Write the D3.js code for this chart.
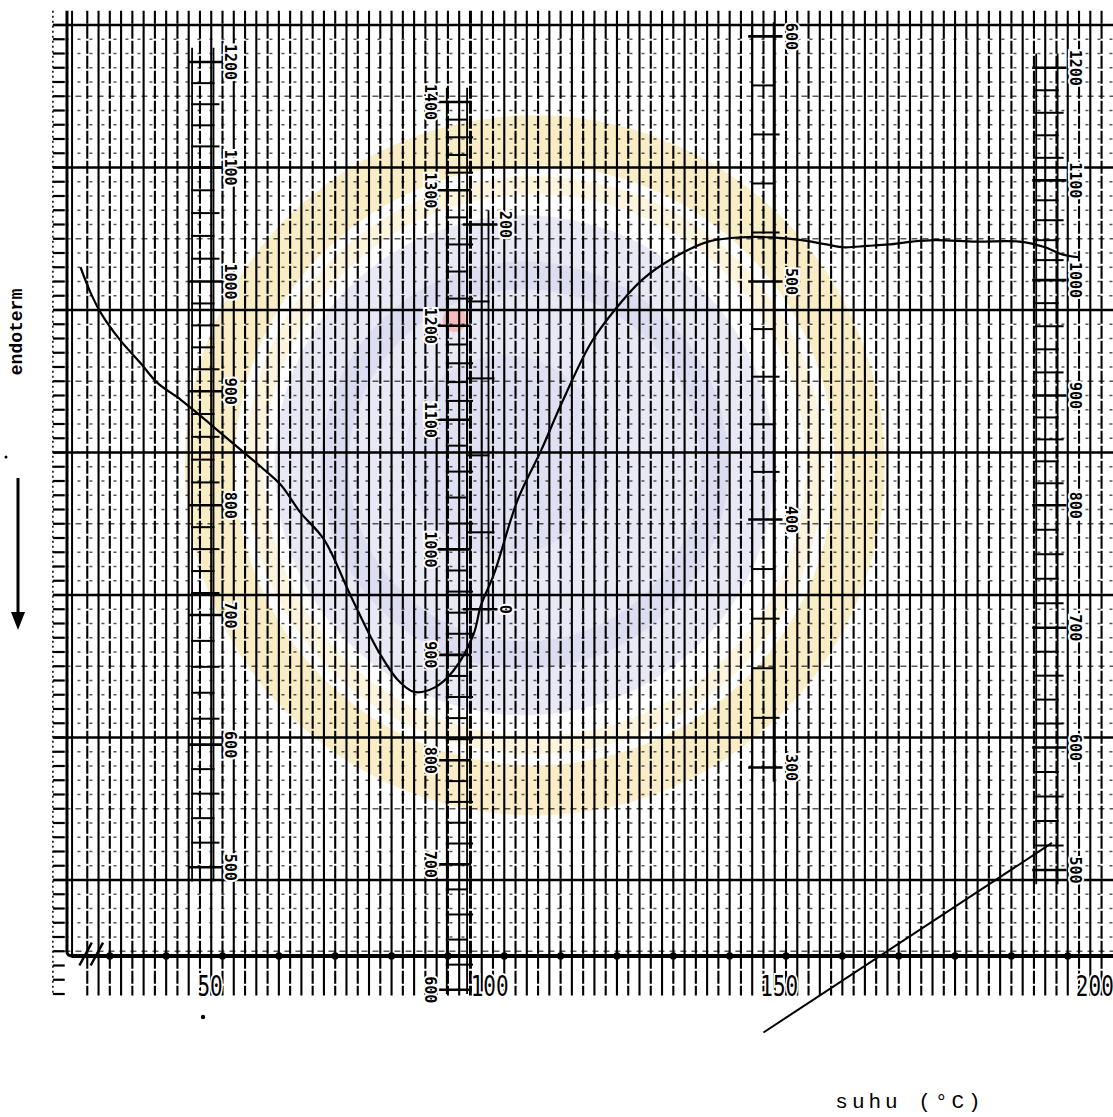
<!DOCTYPE html>
<html>
<head>
<meta charset="utf-8">
<script src="https://cdn.jsdelivr.net/npm/d3@7"></script>
<style>
  body { margin: 0; background: #fff; }
  svg { display: block; }
</style>
</head>
<body>
<div id="chart"></div>
<script>
// chart paper units: u = one grid column, v = one minor grid row
const curveU = [0.4, 1.3, 2.2, 3.9, 5.7, 7.2, 9.3, 11.0, 12.8, 14.6, 16.4, 18.2, 19.9, 22.0, 24.4, 26.8, 28.6, 30.0, 31.8, 33.5, 35.3, 35.9, 37.1, 39.2, 41.3, 43.0, 45.7, 47.8, 50.2, 53.1, 56.1, 59.0, 61.7, 64.4, 66.6, 68.2, 70.2, 72.1, 74.2, 76.2, 79.9, 83.7, 86.0, 87.5, 89.0];
const curveV = [53.0, 51.2, 49.8, 47.9, 46.3, 44.9, 43.7, 42.6, 41.4, 40.2, 39.0, 37.7, 35.8, 33.9, 29.9, 26.1, 24.0, 23.2, 23.5, 24.7, 27.3, 29.2, 31.5, 36.7, 40.2, 43.3, 47.7, 50.0, 52.1, 53.7, 54.8, 55.1, 55.1, 54.9, 54.6, 54.4, 54.5, 54.6, 54.8, 54.9, 54.8, 54.8, 54.4, 53.9, 53.7];

const traceU = [61.0, 86.6];
const traceV = [-0.7, 12.6];

const tempLabels = ['50', '100', '150', '200'];
const tempLabelU = [11.9, 36.7, 62.4, 90.4];

// printed scales on the paper
const col1Values = [1200, 1100, 1000, 900, 800, 700, 600, 500];
const col1V = [67.4, 60.0, 52.0, 44.3, 36.3, 28.6, 19.5, 10.9];
const col2Values = [1400, 1300, 1200, 1100, 1000, 900, 800, 700, 600];
const col2V = [64.6, 58.4, 48.9, 42.3, 33.2, 25.8, 18.4, 11.1, 2.3];
const col3Values = [600, 500, 400, 300];
const col3V = [69.2, 52.0, 35.3, 17.9];
const col4Values = [1200, 1100, 1000, 900, 800, 700, 600, 500];
const col4V = [67.0, 59.1, 52.1, 44.0, 36.3, 27.7, 19.3, 10.7];
const col5Values = [200, 0];
const col5V = [56.0, 29.0];

const width = 1113, height = 1117;

const svg = d3.select('#chart').append('svg')
    .attr('width', width)
    .attr('height', height);

const x = d3.scaleLinear().domain([0, 92]).range([76, 76 + 92 * 11.27]);
const y = d3.scaleLinear().domain([0, 70]).range([1022.5, 25]);

// watermark seal
const wm = svg.append('g').attr('opacity', 0.75);
const cx = x(40.7), cy = y(39.1);
wm.append('circle').attr('cx', cx).attr('cy', cy).attr('r', 325)
    .attr('fill', 'none').attr('stroke', '#f8e7b4').attr('stroke-width', 50);
wm.append('circle').attr('cx', cx).attr('cy', cy).attr('r', 280)
    .attr('fill', 'none').attr('stroke', '#fbf1d2').attr('stroke-width', 18);
wm.append('circle').attr('cx', cx - 10).attr('cy', cy).attr('r', 250)
    .attr('fill', '#e2e2f4');
wm.append('circle').attr('cx', cx - 10).attr('cy', cy).attr('r', 190)
    .attr('fill', 'none').attr('stroke', '#d2d2ee').attr('stroke-width', 28);
wm.append('circle').attr('cx', cx - 30).attr('cy', cy - 10).attr('r', 100)
    .attr('fill', '#d6d6f0');
wm.append('circle').attr('cx', x(33.6)).attr('cy', y(49.3)).attr('r', 12)
    .attr('fill', '#f2a6a6');

// left margin
svg.append('line')
    .attr('x1', x(-2.05)).attr('x2', x(-2.05))
    .attr('y1', y(71)).attr('y2', y(1.9))
    .attr('stroke', '#000').attr('stroke-width', 1.5)
    .attr('stroke-dasharray', '2,3');

// minor rows
const minorV = d3.range(5, 70).filter(d => d % 10 !== 0);
svg.append('g').selectAll('line')
    .data(minorV)
    .join('line')
    .attr('x1', x(-2)).attr('x2', width)
    .attr('y1', d => y(d)).attr('y2', d => y(d))
    .attr('stroke', '#111').attr('stroke-width', 1.3)
    .attr('stroke-opacity', 0.7)
    .attr('stroke-dasharray', d => d % 5 === 0 ? '6,5' : '3,9');

svg.append('g').selectAll('line')
    .data(d3.range(2, 71))
    .join('line')
    .attr('x1', x(-2.05)).attr('x2', x(-1.0))
    .attr('y1', d => y(d)).attr('y2', d => y(d))
    .attr('stroke', '#000').attr('stroke-width', 2.2);

// columns
svg.append('g').selectAll('line')
    .data(d3.range(1, 92))
    .join('line')
    .attr('x1', d => x(d)).attr('x2', d => x(d))
    .attr('y1', y(71)).attr('y2', y(1.9))
    .attr('stroke', '#000')
    .attr('stroke-width', d => d === 35 ? 3 : 2.1)
    .attr('stroke-dasharray', d => d % 2 ? '13,2' : null);

// major rows
svg.append('g').selectAll('line')
    .data(d3.range(10, 71, 10))
    .join('line')
    .attr('x1', x(-2.05)).attr('x2', width)
    .attr('y1', d => y(d)).attr('y2', d => y(d))
    .attr('stroke', '#000').attr('stroke-width', 2.6);

// left border, turning into the base line
svg.append('path')
    .attr('d', `M${x(-0.8)},${y(71)} V${y(4.67) - 4} Q${x(-0.8)},${y(4.67)} ${x(-0.2)},${y(4.67)}`)
    .attr('fill', 'none').attr('stroke', '#000').attr('stroke-width', 3);
svg.append('line')
    .attr('x1', x(-0.35)).attr('x2', x(-0.35))
    .attr('y1', y(71)).attr('y2', y(4.67))
    .attr('stroke', '#000').attr('stroke-width', 2);

// base line of the trace
svg.append('line')
    .attr('x1', x(-0.4)).attr('x2', width)
    .attr('y1', y(4.67)).attr('y2', y(4.67))
    .attr('stroke', '#000').attr('stroke-width', 4);
svg.append('g').selectAll('circle')
    .data(d3.range(3, 92, 5))
    .join('circle')
    .attr('cx', d => x(d)).attr('cy', y(4.67))
    .attr('r', 3.6).attr('fill', '#000');

// break mark
svg.append('g').selectAll('line')
    .data([0.3, 1.3])
    .join('line')
    .attr('x1', d => x(d)).attr('x2', d => x(d + 1.1))
    .attr('y1', y(4.0)).attr('y2', y(5.6))
    .attr('stroke', '#000').attr('stroke-width', 2.5);

// printed scale ladders
function drawScale(values, vs, labelU, side) {
    const s = d3.scaleLinear().domain(values).range(vs);
    const step = Math.abs(values[0] - values[1]) / 5;
    const lo = d3.min(values), hi = d3.max(values);
    const g = svg.append('g');
    const railA = side < 0 ? labelU - 3.4 : labelU + 1.5;
    const railB = side < 0 ? labelU - 1.5 : labelU + 3.3;
    const vmin = d3.min(vs), vmax = d3.max(vs);
    [railA, railB].forEach(r => {
        g.append('line')
            .attr('x1', x(r)).attr('x2', x(r))
            .attr('y1', y(Math.min(vmax + 1, 71))).attr('y2', y(Math.max(vmin - 1, 2)))
            .attr('stroke', '#000').attr('stroke-width', 1.8);
    });
    const rungs = d3.range(lo, hi + step / 2, step).filter(d => !values.includes(d));
    g.selectAll('line.rung')
        .data(rungs)
        .join('line')
        .attr('class', 'rung')
        .attr('x1', x(railA) - 1).attr('x2', (d, i) => x(railB) + (i % 2 ? 1 : 6))
        .attr('y1', d => y(s(d))).attr('y2', d => y(s(d)))
        .attr('stroke', '#000').attr('stroke-width', 2);
    g.selectAll('line.major')
        .data(values)
        .join('line')
        .attr('class', 'major')
        .attr('x1', side < 0 ? x(railA) - 4 : x(labelU) + 8)
        .attr('x2', side < 0 ? x(labelU) - 8 : x(railB) + 4)
        .attr('y1', (d, i) => y(vs[i])).attr('y2', (d, i) => y(vs[i]))
        .attr('stroke', '#000').attr('stroke-width', 2.6);
    g.selectAll('text')
        .data(values)
        .join('text')
        .attr('transform', (d, i) => `translate(${x(labelU)},${y(vs[i])}) rotate(90)`)
        .attr('text-anchor', 'middle')
        .attr('dominant-baseline', 'central')
        .attr('font-family', 'DejaVu Sans Mono, monospace')
        .attr('font-weight', 'bold')
        .attr('font-size', 15)
        .attr('stroke', '#fff').attr('stroke-width', 4).attr('paint-order', 'stroke')
        .attr('fill', '#000')
        .text(d => d);
}

drawScale(col1Values, col1V, 13.7, -1);
drawScale(col2Values, col2V, 31.4, 1);
drawScale(col3Values, col3V, 63.4, -1);
drawScale(col4Values, col4V, 88.6, -1);
drawScale(col5Values, col5V, 38.1, -1);

// DTA curve
const line = d3.line()
    .x(d => x(d[0]))
    .y(d => y(d[1]))
    .curve(d3.curveCatmullRom);

svg.append('path')
    .datum(curveU.map((u, i) => [u, curveV[i]]))
    .attr('d', line)
    .attr('fill', 'none').attr('stroke', '#000').attr('stroke-width', 2.2);

// temperature trace
svg.append('path')
    .datum(traceU.map((u, i) => [u, traceV[i]]))
    .attr('d', d3.line().x(d => x(d[0])).y(d => y(d[1])))
    .attr('fill', 'none').attr('stroke', '#000').attr('stroke-width', 2);

// temperature labels
svg.append('g').selectAll('text')
    .data(tempLabels)
    .join('text')
    .attr('transform', (d, i) => `translate(${x(tempLabelU[i])},${y(1.85)}) scale(1,1.35)`)
    .attr('text-anchor', 'middle')
    .attr('font-family', 'DejaVu Sans Mono, monospace')
    .attr('font-size', 21)
    .attr('stroke', '#fff').attr('stroke-width', 3).attr('paint-order', 'stroke')
    .attr('fill', '#000')
    .text(d => d);

// axis titles
svg.append('text')
    .attr('x', 910).attr('y', 1108)
    .attr('text-anchor', 'middle')
    .attr('font-family', 'Liberation Mono, monospace')
    .attr('font-size', 21)
    .attr('letter-spacing', 4)
    .attr('fill', '#000')
    .text('suhu (°C)');

svg.append('text')
    .attr('transform', 'translate(22,332) rotate(-90)')
    .attr('text-anchor', 'middle')
    .attr('font-family', 'Liberation Mono, monospace')
    .attr('font-weight', 'bold')
    .attr('font-size', 18)
    .attr('fill', '#000')
    .text('endoterm');

svg.append('line')
    .attr('x1', 18).attr('x2', 18).attr('y1', 478).attr('y2', 616)
    .attr('stroke', '#000').attr('stroke-width', 3);
svg.append('path')
    .attr('d', 'M11,612 L25,612 L18,630 Z')
    .attr('fill', '#000');

svg.append('circle').attr('cx', 203).attr('cy', 1017).attr('r', 2.2).attr('fill', '#000');
svg.append('circle').attr('cx', 6).attr('cy', 457).attr('r', 1.5).attr('fill', '#000');
</script>
</body>
</html>
